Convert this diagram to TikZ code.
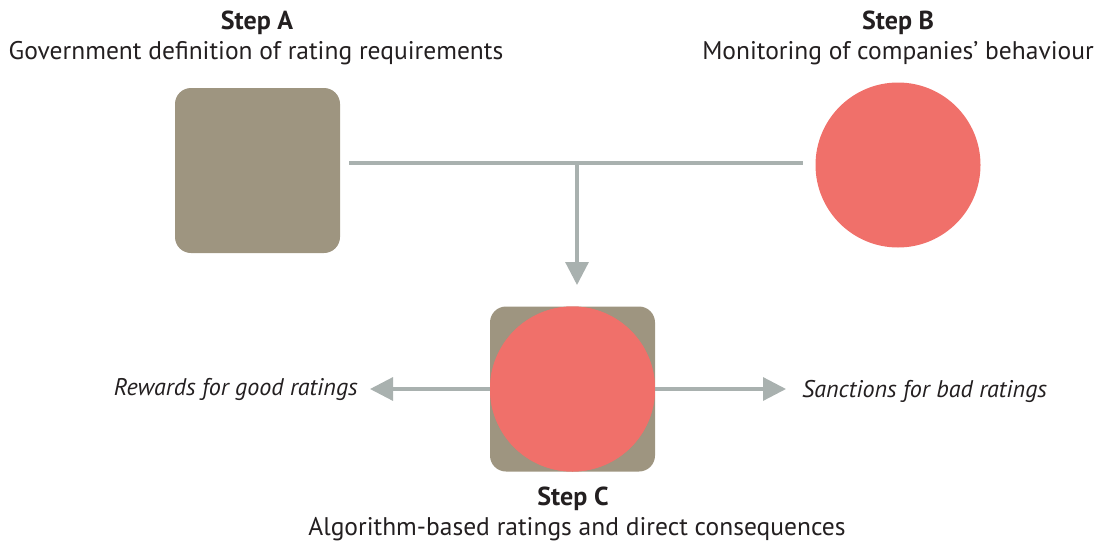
\documentclass[tikz,border=0pt]{standalone}
\usepackage{fontspec}
\setmainfont{PT Sans}
\usetikzlibrary{arrows.meta}
\definecolor{sqbrown}{HTML}{9E9580}
\definecolor{circred}{HTML}{F0706A}
\definecolor{linegray}{HTML}{A9B1AF}
\definecolor{txt}{HTML}{231F20}
\tikzset{
  sq/.style={fill=sqbrown, draw=none, rounded corners=16pt, minimum width=165pt, minimum height=165pt, inner sep=0pt},
  circ/.style={circle, fill=circred, draw=none, minimum size=165pt, inner sep=0pt},
  conn/.style={draw=linegray, line width=3.2pt},
  arr/.style={conn, -{Triangle[length=23pt,width=23pt]}},
  title/.style={font=\fontsize{26}{30}\selectfont\bfseries, inner sep=0pt, text=txt},
  desc/.style={font=\fontsize{25.5}{30}\selectfont, inner sep=0pt, text=txt},
  side/.style={font=\fontsize{24.1}{30}\selectfont\itshape, inner sep=0pt, text=txt}
}
\begin{document}
\begin{tikzpicture}[x=1pt,y=-1pt]
\useasboundingbox (0,0) rectangle (1099,543);
\node[sq] (A) at (257.5,170.5) {};
\node[circ] (B) at (898,165) {};
\node[sq] (Csq) at (572.5,389) {};
\node[circ] (C) at (572.5,389) {};
\node[title] (tA) at (257,23) {Step A};
\node[desc] (dA) at (256,53) {Government definition of rating requirements};
\node[title] (tB) at (898,23) {Step B};
\node[desc] (dB) at (898,53) {Monitoring of companies’ behaviour};
\node[title] (tC) at (573,499) {Step C};
\node[desc] (dC) at (577,529) {Algorithm-based ratings and direct consequences};
\node[side, anchor=east] (rw) at (358,389) {Rewards for good ratings};
\node[side, anchor=west] (sn) at (802,391) {Sanctions for bad ratings};
\coordinate (hl) at (349,163);
\coordinate (hr) at (803,163);
\coordinate (hm) at (577,163);
\coordinate (tipT) at (577,285);
\coordinate (tipL) at (370,389);
\coordinate (tipR) at (786,389);
\draw[conn] (hl) -- (hr);
\draw[arr] (hm) -- (tipT);
\draw[arr] (C.west) -- (tipL);
\draw[arr] (C.east) -- (tipR);
\node[circ] at (C) {};
\end{tikzpicture}
\end{document}
